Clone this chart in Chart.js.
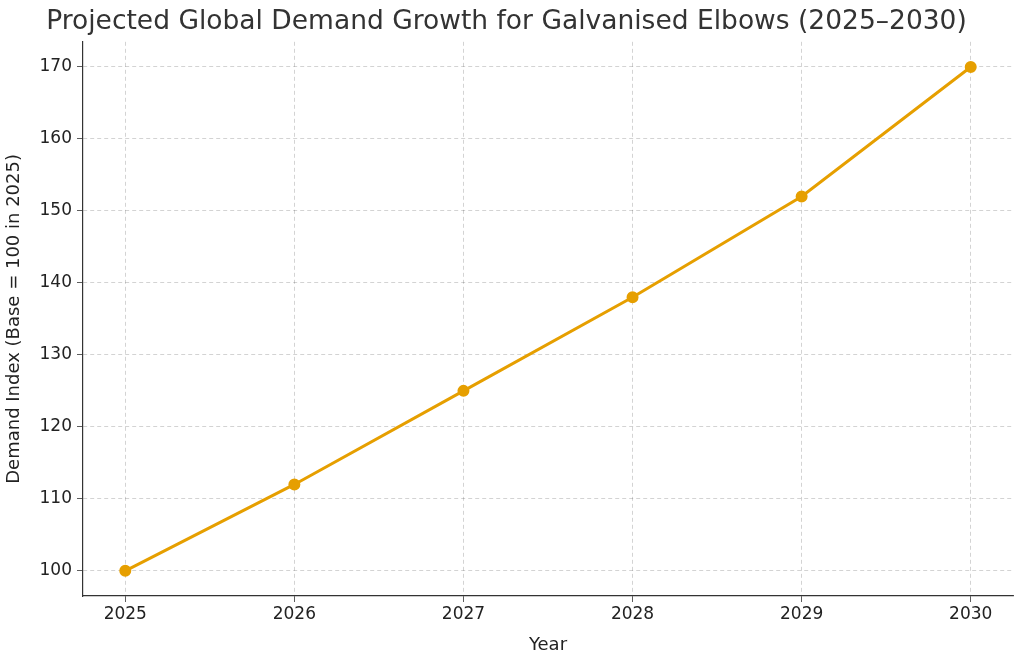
<!DOCTYPE html>
<html><head><meta charset="utf-8">
<script src="https://cdn.jsdelivr.net/npm/chart.js@4/dist/chart.umd.min.js"></script>
<style>html,body{margin:0;padding:0;background:#fff}#w{width:1024px;height:660px}</style>
</head><body><div id="w"><canvas id="c"></canvas></div>
<script>
const years = [2025, 2026, 2027, 2028, 2029, 2030];
const demandIndex = [100, 112, 125, 138, 152, 170];
const yTicks = [100, 110, 120, 130, 140, 150, 160, 170];
const FONT = "'DejaVu Sans', sans-serif";
const grid = {color:'rgba(0,0,0,0.22)', lineWidth:0.8, tickColor:'#333', tickLength:6};
new Chart(document.getElementById('c'), {
  type:'line',
  data:{datasets:[{data:years.map((y,i)=>({x:y,y:demandIndex[i]})),
    borderColor:'#E69F00', backgroundColor:'#E69F00', borderWidth:3,
    pointRadius:4.5, pointHoverRadius:4.5, tension:0}]},
  options:{
    responsive:true, maintainAspectRatio:false, animation:false,
    layout:{padding:{left:0,right:11,top:0,bottom:0}},
    plugins:{legend:{display:false}, tooltip:{enabled:false},
      title:{display:true, text:'Projected Global Demand Growth for Galvanised Elbows (2025–2030)',
        color:'#333', font:{family:FONT,size:26.5,weight:'normal'}, padding:{top:6,bottom:4}}},
    scales:{
      x:{type:'linear', min:2024.75, max:2030.25,
        afterBuildTicks:s=>{s.ticks=years.map(v=>({value:v}));},
        afterFit:s=>{s.height=64;},
        ticks:{callback:v=>String(v), color:'#222', font:{family:FONT,size:17}, padding:2, maxRotation:0},
        grid:grid, border:{display:true,color:'#333',width:1.2, dash:[4,3]},
        title:{display:true,text:'Year',color:'#222',font:{family:FONT,size:18},padding:{top:0}}},
      y:{min:96.5, max:173.5,
        afterBuildTicks:s=>{s.ticks=yTicks.map(v=>({value:v}));},
        afterFit:s=>{s.width=83;},
        ticks:{color:'#222', font:{family:FONT,size:17}, padding:5},
        grid:grid, border:{display:true,color:'#333',width:1.2, dash:[4,3]},
        title:{display:true,text:'Demand Index (Base = 100 in 2025)',color:'#222',font:{family:FONT,size:18},padding:{bottom:0}}}
    }
  }
});
</script></body></html>
